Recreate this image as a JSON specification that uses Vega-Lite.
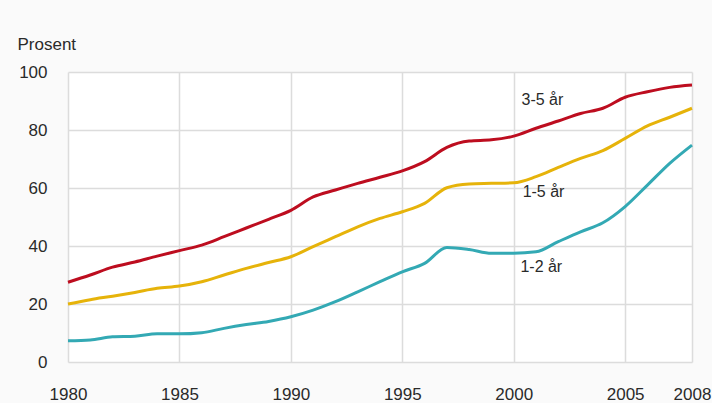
{
  "$schema": "https://vega.github.io/schema/vega-lite/v6.json",
  "width": 624,
  "height": 290,
  "autosize": {"type": "none"},
  "padding": {"left": 68, "top": 72, "right": 20, "bottom": 41},
  "background": "#fafafa",
  "config": {
    "view": {"fill": "white", "stroke": null},
    "font": "Liberation Sans",
    "axis": {"labelFont": "Liberation Sans", "titleFont": "Liberation Sans"}
  },
  "datasets": {
    "series": [
      {"year": 1980, "group": "3-5 år", "value": 27.5},
      {"year": 1981, "group": "3-5 år", "value": 30.0},
      {"year": 1982, "group": "3-5 år", "value": 32.7},
      {"year": 1983, "group": "3-5 år", "value": 34.5},
      {"year": 1984, "group": "3-5 år", "value": 36.5},
      {"year": 1985, "group": "3-5 år", "value": 38.4},
      {"year": 1986, "group": "3-5 år", "value": 40.3},
      {"year": 1987, "group": "3-5 år", "value": 43.2},
      {"year": 1988, "group": "3-5 år", "value": 46.2},
      {"year": 1989, "group": "3-5 år", "value": 49.2},
      {"year": 1990, "group": "3-5 år", "value": 52.3},
      {"year": 1991, "group": "3-5 år", "value": 56.9},
      {"year": 1992, "group": "3-5 år", "value": 59.3},
      {"year": 1993, "group": "3-5 år", "value": 61.6},
      {"year": 1994, "group": "3-5 år", "value": 63.7},
      {"year": 1995, "group": "3-5 år", "value": 65.9},
      {"year": 1996, "group": "3-5 år", "value": 69.1},
      {"year": 1997, "group": "3-5 år", "value": 74.0},
      {"year": 1998, "group": "3-5 år", "value": 76.2},
      {"year": 1999, "group": "3-5 år", "value": 76.6},
      {"year": 2000, "group": "3-5 år", "value": 77.9},
      {"year": 2001, "group": "3-5 år", "value": 80.6},
      {"year": 2002, "group": "3-5 år", "value": 83.1},
      {"year": 2003, "group": "3-5 år", "value": 85.7},
      {"year": 2004, "group": "3-5 år", "value": 87.5},
      {"year": 2005, "group": "3-5 år", "value": 91.3},
      {"year": 2006, "group": "3-5 år", "value": 93.2},
      {"year": 2007, "group": "3-5 år", "value": 94.7},
      {"year": 2008, "group": "3-5 år", "value": 95.5},
      {"year": 1980, "group": "1-5 år", "value": 20.0},
      {"year": 1981, "group": "1-5 år", "value": 21.5},
      {"year": 1982, "group": "1-5 år", "value": 22.7},
      {"year": 1983, "group": "1-5 år", "value": 24.0},
      {"year": 1984, "group": "1-5 år", "value": 25.4},
      {"year": 1985, "group": "1-5 år", "value": 26.2},
      {"year": 1986, "group": "1-5 år", "value": 27.7},
      {"year": 1987, "group": "1-5 år", "value": 30.0},
      {"year": 1988, "group": "1-5 år", "value": 32.3},
      {"year": 1989, "group": "1-5 år", "value": 34.3},
      {"year": 1990, "group": "1-5 år", "value": 36.3},
      {"year": 1991, "group": "1-5 år", "value": 39.8},
      {"year": 1992, "group": "1-5 år", "value": 43.2},
      {"year": 1993, "group": "1-5 år", "value": 46.6},
      {"year": 1994, "group": "1-5 år", "value": 49.5},
      {"year": 1995, "group": "1-5 år", "value": 51.8},
      {"year": 1996, "group": "1-5 år", "value": 54.7},
      {"year": 1997, "group": "1-5 år", "value": 60.1},
      {"year": 1998, "group": "1-5 år", "value": 61.4},
      {"year": 1999, "group": "1-5 år", "value": 61.6},
      {"year": 2000, "group": "1-5 år", "value": 61.8},
      {"year": 2001, "group": "1-5 år", "value": 63.9},
      {"year": 2002, "group": "1-5 år", "value": 67.1},
      {"year": 2003, "group": "1-5 år", "value": 70.2},
      {"year": 2004, "group": "1-5 år", "value": 72.9},
      {"year": 2005, "group": "1-5 år", "value": 77.1},
      {"year": 2006, "group": "1-5 år", "value": 81.4},
      {"year": 2007, "group": "1-5 år", "value": 84.4},
      {"year": 2008, "group": "1-5 år", "value": 87.5},
      {"year": 1980, "group": "1-2 år", "value": 7.3},
      {"year": 1981, "group": "1-2 år", "value": 7.6},
      {"year": 1982, "group": "1-2 år", "value": 8.7},
      {"year": 1983, "group": "1-2 år", "value": 8.9},
      {"year": 1984, "group": "1-2 år", "value": 9.7},
      {"year": 1985, "group": "1-2 år", "value": 9.7},
      {"year": 1986, "group": "1-2 år", "value": 10.1},
      {"year": 1987, "group": "1-2 år", "value": 11.6},
      {"year": 1988, "group": "1-2 år", "value": 12.9},
      {"year": 1989, "group": "1-2 år", "value": 14.0},
      {"year": 1990, "group": "1-2 år", "value": 15.6},
      {"year": 1991, "group": "1-2 år", "value": 17.9},
      {"year": 1992, "group": "1-2 år", "value": 20.8},
      {"year": 1993, "group": "1-2 år", "value": 24.2},
      {"year": 1994, "group": "1-2 år", "value": 27.7},
      {"year": 1995, "group": "1-2 år", "value": 31.1},
      {"year": 1996, "group": "1-2 år", "value": 34.0},
      {"year": 1997, "group": "1-2 år", "value": 39.5},
      {"year": 1998, "group": "1-2 år", "value": 38.8},
      {"year": 1999, "group": "1-2 år", "value": 37.5},
      {"year": 2000, "group": "1-2 år", "value": 37.5},
      {"year": 2001, "group": "1-2 år", "value": 38.0},
      {"year": 2002, "group": "1-2 år", "value": 41.5},
      {"year": 2003, "group": "1-2 år", "value": 44.9},
      {"year": 2004, "group": "1-2 år", "value": 48.0},
      {"year": 2005, "group": "1-2 år", "value": 53.6},
      {"year": 2006, "group": "1-2 år", "value": 61.0},
      {"year": 2007, "group": "1-2 år", "value": 68.5},
      {"year": 2008, "group": "1-2 år", "value": 74.8}
    ],
    "labels": [
      {"year": 2000.35, "value": 90.3, "label": "3-5 år"},
      {"year": 2000.4, "value": 58.6, "label": "1-5 år"},
      {"year": 2000.3, "value": 32.6, "label": "1-2 år"}
    ]
  },
  "layer": [
    {
      "data": {"name": "series"},
      "mark": {"type": "line", "strokeWidth": 3, "interpolate": "monotone"},
      "encoding": {
        "x": {
          "field": "year",
          "type": "quantitative",
          "scale": {"domain": [1980, 2008], "nice": false, "zero": false},
          "axis": {
            "values": [1980, 1985, 1990, 1995, 2000, 2005, 2008],
            "format": "d",
            "title": null,
            "domain": false,
            "ticks": false,
            "labelPadding": 24,
            "labelFontSize": 17,
            "labelColor": "#2a2a2a",
            "labelFlush": false,
            "grid": true,
            "gridColor": "#dcdcdc",
            "gridWidth": 1.5
          }
        },
        "y": {
          "field": "value",
          "type": "quantitative",
          "scale": {"domain": [0, 100], "nice": false},
          "axis": {
            "values": [0, 20, 40, 60, 80, 100],
            "title": "Prosent",
            "titleAngle": 0,
            "titleAlign": "left",
            "titleBaseline": "alphabetic",
            "titleX": -51,
            "titleY": -23,
            "titleFontSize": 17,
            "titleFontWeight": "normal",
            "titleColor": "#2a2a2a",
            "domain": false,
            "ticks": false,
            "labelPadding": 21,
            "labelFontSize": 17,
            "labelColor": "#2a2a2a",
            "grid": true,
            "gridColor": "#dcdcdc",
            "gridWidth": 1.5
          }
        },
        "color": {
          "field": "group",
          "type": "nominal",
          "scale": {
            "domain": ["3-5 år", "1-5 år", "1-2 år"],
            "range": ["#bd0d1f", "#e6b30a", "#33a9b4"]
          },
          "legend": null
        }
      }
    },
    {
      "data": {"name": "labels"},
      "mark": {"type": "text", "align": "left", "baseline": "middle", "fontSize": 16, "color": "#2a2a2a"},
      "encoding": {
        "x": {"field": "year", "type": "quantitative"},
        "y": {"field": "value", "type": "quantitative"},
        "text": {"field": "label"}
      }
    }
  ]
}
